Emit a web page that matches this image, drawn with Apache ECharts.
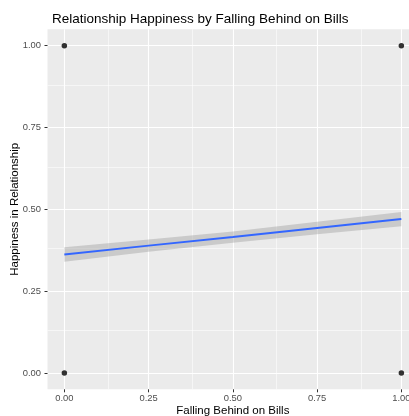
<!DOCTYPE html>
<html>
<head>
<meta charset="utf-8">
<script src="https://cdn.jsdelivr.net/npm/echarts@6/dist/echarts.min.js"></script>
<style>
html,body{margin:0;padding:0;background:#fff;}
#c{width:409px;height:416px;}
</style>
</head>
<body>
<div id="c"></div>
<script>
const pointsX = [0, 0, 1, 1];
const pointsY = [0, 1, 0, 1];
const fitX = [0, 0.25, 0.5, 0.75, 1];
const fitY = [0.362, 0.389, 0.415, 0.443, 0.470];
const bandLo = [0.340, 0.370, 0.398, 0.424, 0.448];
const bandHi = [0.384, 0.408, 0.432, 0.462, 0.492];
const xTicks = [0, 0.25, 0.5, 0.75, 1];
const yTicks = [0, 0.25, 0.5, 0.75, 1];
const xMinor = [0.125, 0.375, 0.625, 0.875];
const yMinor = [0.125, 0.375, 0.625, 0.875];

const FONT = 'Liberation Sans, Arial, Helvetica, sans-serif';
const chart = echarts.init(document.getElementById('c'), null, {renderer: 'canvas'});

const gridLines = [];
xMinor.forEach(v => gridLines.push({xAxis: v, lineStyle: {color: '#fff', width: 0.55, type: 'solid'}}));
yMinor.forEach(v => gridLines.push({yAxis: v, lineStyle: {color: '#fff', width: 0.55, type: 'solid'}}));
xTicks.forEach(v => gridLines.push({xAxis: v, lineStyle: {color: '#fff', width: 1.1, type: 'solid'}}));
yTicks.forEach(v => gridLines.push({yAxis: v, lineStyle: {color: '#fff', width: 1.1, type: 'solid'}}));

const axisCommon = {
  type: 'value',
  min: -0.05,
  max: 1.05,
  axisLine: {show: false, onZero: false},
  splitLine: {show: false},
  minorSplitLine: {show: false},
  nameLocation: 'middle',
  nameTextStyle: {fontFamily: FONT, fontSize: 11.5, color: '#000'}
};

chart.setOption({
  animation: false,
  backgroundColor: '#fff',
  title: {
    text: 'Relationship Happiness by Falling Behind on Bills',
    left: 47,
    top: 7,
    textStyle: {fontFamily: FONT, fontSize: 13.5, fontWeight: 'normal', color: '#000'}
  },
  grid: {
    left: 47.5, top: 29.3, width: 370.7, height: 360,
    show: true, backgroundColor: '#EBEBEB', borderWidth: 0,
    containLabel: false,
    outerBoundsMode: 'none'
  },
  xAxis: Object.assign({}, axisCommon, {
    name: 'Falling Behind on Bills',
    nameGap: 15.5,
    nameMoveOverlap: false,
    axisTick: {show: true, customValues: xTicks, length: 3, lineStyle: {color: '#333', width: 1}},
    axisLabel: {customValues: xTicks, margin: 5, fontFamily: FONT, fontSize: 9.4, color: '#4D4D4D',
      formatter: v => Number(v).toFixed(2)}
  }),
  yAxis: Object.assign({}, axisCommon, {
    name: 'Happiness in Relationship',
    nameGap: 26.5,
    nameRotate: 90,
    nameMoveOverlap: false,
    axisTick: {show: true, customValues: yTicks, length: 3, lineStyle: {color: '#333', width: 1}},
    axisLabel: {customValues: yTicks, margin: 6.5, fontFamily: FONT, fontSize: 9.4, color: '#4D4D4D',
      formatter: v => Number(v).toFixed(2)}
  }),
  series: [
    {
      type: 'line', data: [], z: 0, silent: true,
      markLine: {silent: true, z: 0, symbol: ['none', 'none'], label: {show: false}, animation: false,
        emphasis: {disabled: true}, data: gridLines}
    },
    {
      type: 'custom', z: 1, silent: true,
      data: [[0]],
      renderItem: function (params, api) {
        const pts = [];
        for (let i = 0; i < fitX.length; i++) pts.push(api.coord([fitX[i], bandHi[i]]));
        for (let i = fitX.length - 1; i >= 0; i--) pts.push(api.coord([fitX[i], bandLo[i]]));
        return {type: 'polygon', shape: {points: pts}, style: {fill: 'rgba(153,153,153,0.4)', stroke: null}};
      }
    },
    {
      type: 'line', z: 2, silent: true, symbol: 'none',
      data: fitX.map((x, i) => [x, fitY[i]]),
      lineStyle: {color: '#3366FF', width: 2}
    },
    {
      type: 'scatter', z: 10, silent: true, symbolSize: 5.5,
      data: pointsX.map((x, i) => [x, pointsY[i]]),
      itemStyle: {color: '#000'}
    }
  ]
});
</script>
</body>
</html>
